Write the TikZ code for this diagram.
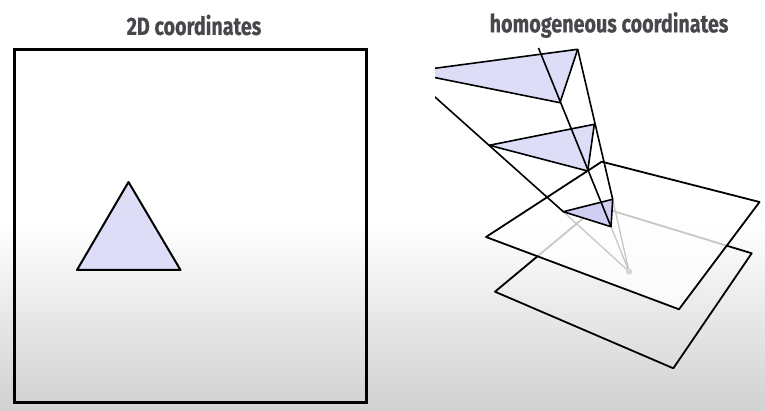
\documentclass[tikz,border=0pt]{standalone}
\usepackage{fontspec}
\newfontfamily\titlefont{Fira Sans}[FakeStretch=0.79, FakeBold=0.4]
\definecolor{titlegray}{HTML}{47474C}
\definecolor{lav}{HTML}{DDDDF8}
\definecolor{lavdark}{HTML}{CFCFF4}
\begin{document}
\begin{tikzpicture}[x=1pt,y=-1pt,
  titletext/.style={font=\titlefont\bfseries\fontsize{25}{25}\selectfont, text=titlegray, inner sep=0},
  tri/.style={fill=lav, draw=black, line width=1.6, line join=round},
  ray/.style={draw=black, line width=1.6},
  plane/.style={draw=black, line width=1.8, line join=round}]
\useasboundingbox (0,0) rectangle (765,411);
\fill[white] (0,0) rectangle (765,411);
\shade[top color=white, bottom color=black!18] (0,220) rectangle (765,411);

% titles
\node[titletext] (t1) at (194,25) {2D coordinates};
\node[titletext] (t2) at (609,25) {homogeneous coordinates};

% left panel
\node[draw=black, line width=3, minimum width=352, minimum height=352, inner sep=0] (frame) at (190,226) {};
\coordinate (L1) at (128.5,182);
\coordinate (L2) at (77,270);
\coordinate (L3) at (180.5,270);
\draw[tri, line width=2] (L1) -- (L2) -- (L3) -- cycle;

% right panel
\begin{scope}
\clip (435,0) rectangle (765,411);
\coordinate (O) at (629,271.5);
\coordinate (A1) at (407,72);
\coordinate (B1) at (577.7,49.3);
\coordinate (C1) at (560,102.7);
\coordinate (C0) at (538.5,48);
\coordinate (A2) at (489.3,145.3);
\coordinate (B2) at (594.3,124.3);
\coordinate (C2) at (587.7,171);
\coordinate (A3) at (563.3,211.7);
\coordinate (B3) at (612.7,199.3);
\coordinate (C3) at (611,226.7);
% lower plane
\coordinate (P1) at (495,291.7);
\coordinate (P2) at (597.5,206.3);
\coordinate (P3) at (751.7,253.3);
\coordinate (P4) at (673.3,368.3);
% upper plane
\coordinate (Q1) at (486,237);
\coordinate (Q2) at (601.7,161.7);
\coordinate (Q3) at (759.5,202);
\coordinate (Q4) at (679,309.3);

\draw[plane] (P1) -- (P2) -- (P3) -- (P4) -- cycle;
\draw[black, line width=1.3] (A3) -- (O) (B3) -- (O) (C3) -- (O);
\fill[black!70] (O) circle (3.2);
\filldraw[plane, fill=white, fill opacity=0.78] (Q1) -- (Q2) -- (Q3) -- (Q4) -- cycle;

\draw[tri] (A1) -- (B1) -- (C1) -- cycle;
\draw[tri] (A2) -- (B2) -- (C2) -- cycle;
\draw[tri, fill=lavdark] (A3) -- (B3) -- (C3) -- cycle;
\draw[ray] (A1) -- (A3);
\draw[ray] (B1) -- (B3);
\draw[ray] (C0) -- (C3);
\end{scope}
\end{tikzpicture}
\end{document}
